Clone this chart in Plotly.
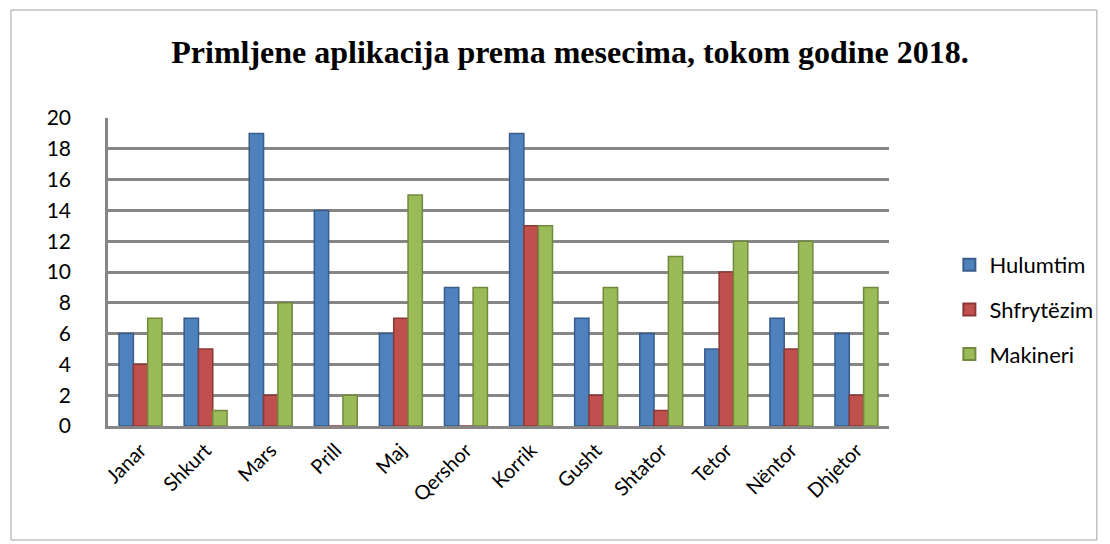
import plotly.graph_objects as go

months = ["Janar", "Shkurt", "Mars", "Prill", "Maj", "Qershor", "Korrik",
          "Gusht", "Shtator", "Tetor", "Nëntor", "Dhjetor"]
hulumtim = [6, 7, 19, 14, 6, 9, 19, 7, 6, 5, 7, 6]
shfrytezim = [4, 5, 2, 0, 7, 0, 13, 2, 1, 10, 5, 2]
makineri = [7, 1, 8, 2, 15, 9, 13, 9, 11, 12, 12, 9]
series_names = ["Hulumtim", "Shfrytëzim", "Makineri"]
colors = ["#4F81BD", "#C0504D", "#9BBB59"]
edges = ["#385D8A", "#8C3836", "#71893F"]

fig = go.Figure()
for name, vals, c, e in zip(series_names, [hulumtim, shfrytezim, makineri], colors, edges):
    fig.add_trace(go.Bar(
        x=months, y=vals, name=name, legendgroup=name,
        marker=dict(color=c, line=dict(color=e, width=1.5)),
    ))

OFF = 8  # page body margin
W, H = 1110 - OFF, 544 - OFF
# plot area in screen pixels
X0, X1, Y0, Y1 = 108, 897, 118, 426
L, R, T, B = X0 - OFF, W - (X1 - OFF), Y0 - OFF, H - (Y1 - OFF)
pw, ph = W - L - R, H - T - B

def px_x(x):
    return (x - OFF - L) / pw

def px_y(y):
    return (H - B - (y - OFF)) / ph

fig.update_layout(
    width=W, height=H,
    margin=dict(l=L, r=R, t=T, b=B),
    paper_bgcolor="white", plot_bgcolor="white",
    barmode="group", bargap=0.34, bargroupgap=0.0,
    title=dict(text="<b>Primljene aplikacija prema mesecima, tokom godine 2018.</b>",
               x=(570 - OFF) / W, xanchor="center", y=1 - (52 - OFF) / H, yanchor="middle",
               font=dict(family="Liberation Serif", size=32, color="black")),
    font=dict(family="Lato", color="black"),
    legend=dict(x=px_x(958), xanchor="left", y=px_y(244), yanchor="top",
                font=dict(size=22, family="Lato"), itemsizing="constant",
                tracegroupgap=13, bgcolor="rgba(0,0,0,0)"),
    xaxis=dict(tickangle=-45, tickfont=dict(size=20), showgrid=False,
               showline=True, linecolor="#868686", linewidth=2.5,
               ticks="", ticklabelstandoff=2),
    yaxis=dict(range=[0, 20], dtick=2, tickfont=dict(size=21),
               showgrid=True, gridcolor="#868686", gridwidth=2.5,
               showline=True, linecolor="#868686", linewidth=2.5,
               ticks="", ticklabelstandoff=30, zeroline=False),
    shapes=[dict(type="rect", xref="paper", yref="paper",
                 x0=px_x(10), x1=px_x(1107), y0=px_y(540), y1=px_y(10),
                 line=dict(color="#A0A0A0", width=1), layer="below")],
)

fig.write_html("out.html")
